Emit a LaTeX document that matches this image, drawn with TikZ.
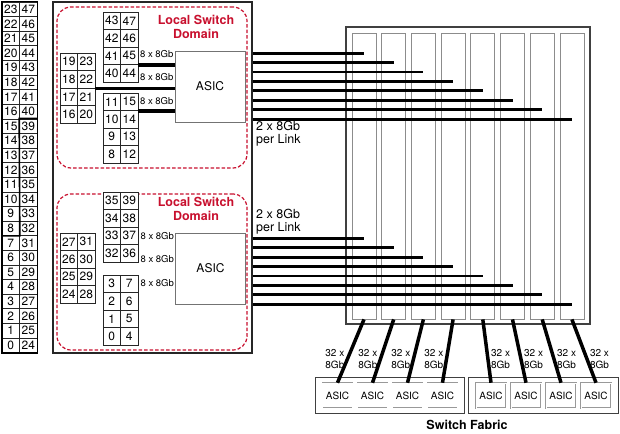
\documentclass[tikz,border=0pt]{standalone}
\usepackage{fontspec}
\setmainfont{TeX Gyre Heros}
\usetikzlibrary{fit,calc,positioning}
\definecolor{domred}{HTML}{C8102E}

\begin{document}
\begin{tikzpicture}[%
x=1pt, y=-1pt,
port/.style={draw=black!85, fill=white, line width=0.6pt, minimum width=17.5pt,
  minimum height=17.5pt, inner sep=0pt, font=\fontsize{12}{12}\selectfont},
faceport/.style={port, minimum height=14.6pt},
portgroup/.style={line width=1.6pt},
chassisbox/.style={draw=black!85, line width=1.3pt, inner sep=0pt},
lsdomain/.style={draw=domred, line width=1.2pt, dash pattern=on 3.5pt off 2pt,
  rounded corners=14pt, inner sep=0pt},
domtitle/.style={text=domred, font=\bfseries\fontsize{12.5}{13.5}\selectfont, align=center},
asic/.style={draw=black!55, fill=white, line width=0.8pt, minimum width=70pt,
  minimum height=71pt, inner sep=0pt, font=\fontsize{12}{12}\selectfont},
rate/.style={font=\fontsize{9.5}{10}\selectfont, inner sep=0pt, anchor=east},
perlink/.style={font=\fontsize{12.5}{13}\selectfont, align=left, anchor=west, inner sep=0pt},
bus/.style={line width=3.5pt},
link/.style={line width=2.8pt},
fabricbox/.style={draw=black!75, line width=1.2pt, inner sep=0pt},
slot/.style={draw=black!45, line width=0.8pt, minimum width=24pt, minimum height=286pt, inner sep=0pt},
fasic/.style={draw=black!40, double=white, double distance=0.7pt, line width=0.5pt,
  minimum width=30pt, minimum height=25pt, inner sep=0pt, font=\fontsize{10}{10}\selectfont},
grp/.style={draw=black!75, line width=1pt, inner xsep=7pt, inner ysep=5.5pt},
trunk/.style={line width=3.5pt},
trunklbl/.style={font=\fontsize{10}{12}\selectfont, align=center, inner sep=1.5pt},
fabtitle/.style={font=\bfseries\fontsize{12.5}{13}\selectfont}
]
\useasboundingbox (0,0) rectangle (620,433);

% front panel ports
\foreach \i in {0,...,23}{
  \pgfmathtruncatemacro\pl{23-\i}
  \pgfmathtruncatemacro\pr{47-\i}
  \node[faceport] (f-l\i) at (10.75,9.3+14.6*\i) {\pl};
  \node[faceport] (f-r\i) at (28.25,9.3+14.6*\i) {\pr};
}
\draw[portgroup] (f-l0.north west) rectangle (f-r23.south east);
\draw[portgroup] (f-r8.north east) -- (f-r8.north west) -- (f-l15.south east) -- (f-l15.south west);

% line card
\node[chassisbox, minimum width=199pt, minimum height=351pt] (chassis) at (152.5,177.5) {};
\node[lsdomain, minimum width=190pt, minimum height=161pt] (domT) at (152,87.5) {};
\node[lsdomain, minimum width=190pt, minimum height=156pt] (domB) at (152,272) {};
\node[domtitle] (domTt) at (196,27) {Local Switch\\Domain};
\node[domtitle] (domBt) at (196,209) {Local Switch\\Domain};

\foreach \nm/\bx/\by/\a/\b in {tu/103/12/43/47, tl/60/53/19/23, td/103/93/11/15,
                               bu/103/192/35/39, bl/60/233/27/31, bd/103/275/3/7}{
  \foreach \i in {0,...,3}{
    \pgfmathtruncatemacro\pl{\a-\i}
    \pgfmathtruncatemacro\pr{\b-\i}
    \node[port] (\nm-l\i) at (\bx+8.75,\by+8.75+17.5*\i) {\pl};
    \node[port] (\nm-r\i) at (\bx+26.25,\by+8.75+17.5*\i) {\pr};
  }
}

\node[asic] (asicT) at (210,86.5) {ASIC};
\node[asic] (asicB) at (210.5,268.5) {ASIC};

% 8 x 8Gb into the ASIC
\draw[bus] (tu-r2.south east) -- (tu-r2.south east -| asicT.west);
\draw[bus] (tl-r1.south east) -- (tl-r1.south east -| asicT.west);
\draw[bus] (td-r0.south east) -- (td-r0.south east -| asicT.west);
\foreach \a in {T,B}{
  \foreach \dy [count=\j] in {3,26.5,50}{
    \node[rate] (rate\a\j) at ([xshift=-1pt,yshift=-\dy pt]asic\a.north west) {8 x 8Gb};
  }
}
\node[perlink] (plT) at (256,134) {2 x 8Gb\\per Link};
\node[perlink] (plB) at (256,221.5) {2 x 8Gb\\per Link};

% switch fabric
\node[fabricbox, minimum width=244pt, minimum height=297pt] (fabric) at (468,175.5) {};
\foreach \i in {0,...,7}
  \node[slot] (slot\i) at (364+29.7*\i,176) {};

\foreach \k in {0,...,7}{
  \pgfmathsetmacro\ty{53.3+9.4*\k}
  \pgfmathsetmacro\bly{238.3+9.4*\k}
  \coordinate (lt\k) at (chassis.east |- 0,\ty);
  \coordinate (lb\k) at (chassis.east |- 0,\bly);
  \draw[link] (lt\k) -- (lt\k -| slot\k);
  \draw[link] (lb\k) -- (lb\k -| slot\k);
}

\foreach \i/\x in {0/337.5,1/372.5,2/407.5,3/442.5,4/491,5/526,6/561,7/596}
  \node[fasic] (fa\i) at (\x,395.5) {ASIC};
\node[grp, fit=(fa0)(fa3)] (g1) {};
\node[grp, fit=(fa4)(fa7)] (g2) {};

\foreach \i in {0,...,3}
  \draw[trunk] (slot\i.south) -- (fa\i.north) node[pos=.62, left, trunklbl] {32 x\\8Gb};
\foreach \i in {4,...,7}
  \draw[trunk] (slot\i.south) -- (fa\i.north) node[pos=.62, right, trunklbl] {32 x\\8Gb};

\node[fabtitle] (sf) at (467,425) {Switch Fabric};
\end{tikzpicture}
\end{document}
